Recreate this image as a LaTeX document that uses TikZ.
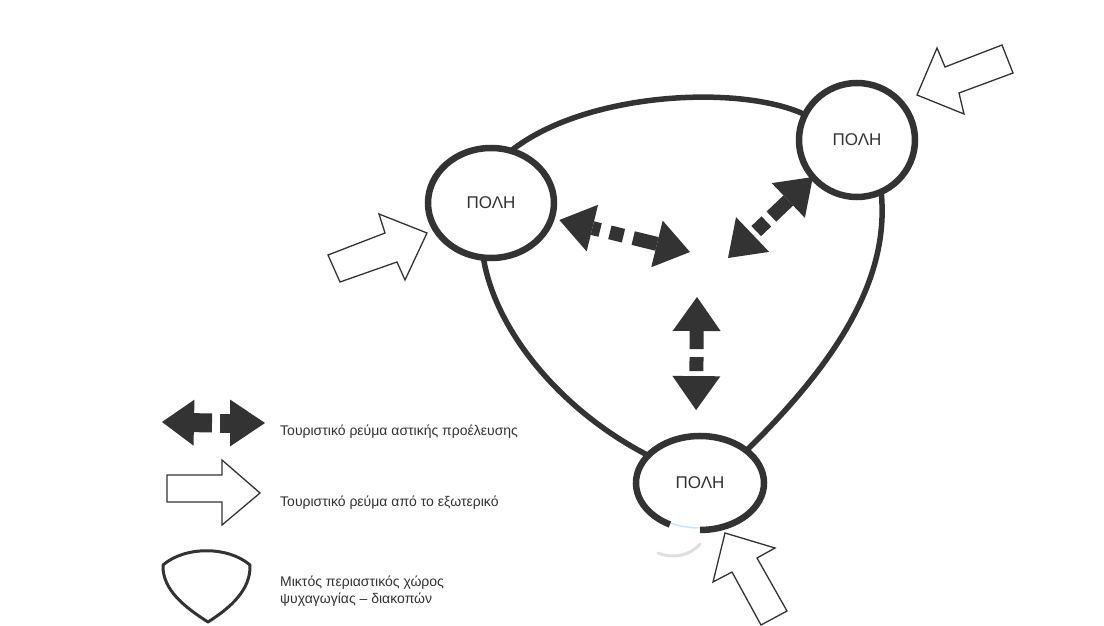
\documentclass[tikz,border=0pt]{standalone}
\usepackage{fontspec}
\setmainfont{Liberation Sans}
\usetikzlibrary{arrows.meta,shapes.geometric,calc}
\definecolor{ink}{HTML}{333333}
\begin{document}
\begin{tikzpicture}[x=1pt,y=-1pt,
  city/.style={ellipse,draw=ink,line width=6.5pt,inner sep=0pt,outer sep=0pt,
    font=\fontsize{17}{19}\selectfont,text=ink},
  ring/.style={draw=ink,line width=5.5pt,line cap=round},
  darr/.style={ink,line width=14pt,{Triangle[length=34pt,width=48pt,line width=0pt]}-{Triangle[length=34pt,width=48pt,line width=0pt]}},
  hollow/.style={draw=ink,fill=white,line width=1.3pt,line join=miter},
  legtext/.style={anchor=west,text=ink,font=\fontsize{14}{17}\selectfont,align=left,inner sep=0pt}
]
\useasboundingbox (0,0) rectangle (1104,626);
\fill[white] (0,0) rectangle (1104,626);

% cities
\node[city,minimum width=126pt,minimum height=110pt] (L) at (491,203) {ΠΟΛΗ};
\node[city,minimum width=116pt,minimum height=114pt] (T) at (857,140) {ΠΟΛΗ};
\node[city,draw=none,minimum width=128pt,minimum height=94pt] (B) at (700,483) {ΠΟΛΗ};
\draw[ink,line width=6.5pt] ($(B.center)+(118:64 and 47)$) arc[start angle=118,end angle=450,x radius=64,y radius=47];
\draw[cyan!25,line width=1.5pt] ($(B.center)+(92:64 and 45)$) arc[start angle=92,end angle=117,x radius=64,y radius=45];
\draw[gray!25,line width=3pt,line cap=round] (658,553) .. controls (672,559) and (690,556) .. (700,544);

% surrounding area
\draw[ring] (L.69) .. controls (585,92) and (740,84) .. (T.154);
\draw[ring] (T.-65) .. controls (888,260) and (860,340) .. (B.35);
\draw[ring] (L.-98) .. controls (495,330) and (560,410) .. (B.152);

% urban tourist flows
\coordinate (c1) at (690,252);
\coordinate (c2) at (728,258);
\coordinate (c3) at (697,297);
\draw[darr,shorten <=8pt,dash pattern=on 8pt off 10pt on 14pt off 10pt on 60pt off 1pt] (L.-14) -- (c1);
\draw[darr,dash pattern=on 0pt off 5pt on 14pt off 7pt on 60pt off 1pt] (c2) -- (T.-140);
\draw[darr,shorten <=26pt,dash pattern=on 0pt off 5pt on 14pt off 8pt on 60pt off 1pt] (B.95) -- (c3);

% tourist flows from abroad
\draw[hollow] (328,255) -- (385,233) -- (379,214) -- (427,233) -- (405,280) -- (397,262) -- (340,282) -- cycle;
\draw[hollow] (917,95) -- (937,48) -- (945,67) -- (1002,45) -- (1013,73) -- (959,93) -- (964,114) -- cycle;
\draw[hollow] (725,533) -- (775,548) -- (757,558) -- (787,611) -- (761,625) -- (732,572) -- (713,582) -- cycle;

% legend
\coordinate (g1) at (212,423);
\coordinate (g2) at (162,422);
\coordinate (g3) at (220,423);
\coordinate (g4) at (265,423);
\draw[ink,line width=19pt,-{Triangle[length=32pt,width=46pt,line width=0pt]}] (g1) -- (g2);
\draw[ink,line width=19pt,-{Triangle[length=35pt,width=47pt,line width=0pt]}] (g3) -- (g4);
\node[legtext] (t1) at (280,432) {Τουριστικό ρεύμα αστικής προέλευσης};

\draw[hollow] (167,475) -- (222,475) -- (222,460) -- (260,493) -- (222,525) -- (222,502) -- (167,502) -- cycle;
\node[legtext] (t2) at (280,503) {Τουριστικό ρεύμα από το εξωτερικό};

\draw[ink,line width=3pt,line join=round] (163,565) .. controls (185,546) and (228,546) .. (250,565)
  .. controls (251,590) and (230,608) .. (208,622) .. controls (186,608) and (162,590) .. cycle;
\node[legtext] (t3) at (280,591) {Μικτός περιαστικός χώρος\\ψυχαγωγίας – διακοπών};
\end{tikzpicture}
\end{document}
